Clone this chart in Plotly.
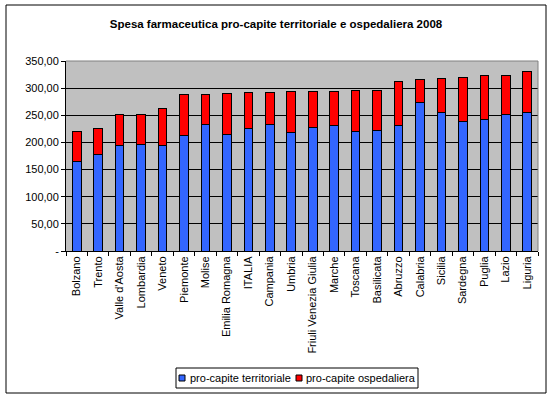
import plotly.graph_objects as go

categories = ["Bolzano", "Trento", "Valle d'Aosta", "Lombardia", "Veneto", "Piemonte", "Molise",
              "Emilia Romagna", "ITALIA", "Campania", "Umbria", "Friuli Venezia Giulia", "Marche",
              "Toscana", "Basilicata", "Abruzzo", "Calabria", "Sicilia", "Sardegna", "Puglia",
              "Lazio", "Liguria"]
territoriale = [164.9, 178.4, 194.3, 196.2, 194.3, 212.7, 233.5, 214.5, 225.6, 233.5, 218.8,
                227.4, 231.1, 220.7, 222.5, 231.1, 274.0, 255.6, 239.1, 242.7, 251.3, 255.6]
totale = [220.7, 226.2, 251.9, 251.9, 263.0, 288.7, 288.7, 290.6, 292.4, 292.4, 294.2,
          294.2, 294.2, 296.1, 296.1, 312.6, 316.3, 318.1, 320.0, 323.7, 323.7, 331.0]
ospedaliera = [round(t - a, 1) for t, a in zip(totale, territoriale)]

series_names = ["pro-capite territoriale", "pro-capite ospedaliera"]
series_colors = ["#3366FF", "#FF0000"]

y_tickvals = [0, 50, 100, 150, 200, 250, 300, 350]
y_ticktext = ["-", "50,00", "100,00", "150,00", "200,00", "250,00", "300,00", "350,00"]

FONT = "Liberation Sans, Arial, sans-serif"

fig = go.Figure()
for name, vals, col in zip(series_names, [territoriale, ospedaliera], series_colors):
    fig.add_trace(go.Bar(name=name, x=categories, y=vals, showlegend=False,
                         marker=dict(color=col, line=dict(color="black", width=1))))

L, R, T, B = 66, 538, 61, 251
W, H = 552, 399
def px(x):
    return (x - L) / (R - L)
def py(y):
    return (B - y) / (B - T)

shapes = [
    dict(type="line", xref="paper", yref="paper", x0=0, x1=1, y0=1, y1=1,
         line=dict(color="#808080", width=1)),
    dict(type="line", xref="paper", yref="paper", x0=1, x1=1, y0=0, y1=1,
         line=dict(color="#808080", width=1)),
    dict(type="rect", xref="paper", yref="paper", x0=px(6), x1=px(546), y0=py(393), y1=py(5),
         line=dict(color="black", width=1), fillcolor="rgba(0,0,0,0)", layer="below"),
    # legend box
    dict(type="rect", xref="paper", yref="paper", x0=px(176), x1=px(418), y0=py(388), y1=py(368),
         line=dict(color="black", width=1), fillcolor="white"),
]
annotations = []
legend_sq_x = [179, 296]
legend_txt_x = [188, 304]
for name, col, sx, tx in zip(series_names, series_colors, legend_sq_x, legend_txt_x):
    shapes.append(dict(type="rect", xref="paper", yref="paper", x0=px(sx), x1=px(sx + 6),
                       y0=py(381), y1=py(375), line=dict(color="black", width=1), fillcolor=col))
    annotations.append(dict(text=name, xref="paper", yref="paper", x=px(tx), y=py(378),
                            xanchor="left", yanchor="middle", showarrow=False,
                            font=dict(family=FONT, size=11, color="black")))

fig.update_layout(
    width=W, height=H,
    barmode="stack", bargap=0.6,
    margin=dict(l=L, r=W - R, t=T, b=H - B, autoexpand=False),
    paper_bgcolor="white", plot_bgcolor="#C0C0C0",
    font=dict(family=FONT, size=11, color="black"),
    title=dict(text="<b>Spesa farmaceutica pro-capite territoriale e ospedaliera 2008</b>",
               x=276 / W, xanchor="center", y=1 - 24 / H, yanchor="middle",
               font=dict(family=FONT, size=11.5, color="black")),
    showlegend=False,
    xaxis=dict(type="category", tickangle=-90, showgrid=False, showline=True,
               linecolor="black", linewidth=1, ticks="outside", tickson="boundaries",
               ticklen=4, tickcolor="black", tickfont=dict(family=FONT, size=11)),
    yaxis=dict(range=[0, 350], tickvals=y_tickvals, ticktext=y_ticktext,
               showgrid=True, gridcolor="black", gridwidth=1, showline=True,
               linecolor="black", linewidth=1, ticks="outside", ticklen=4,
               tickcolor="black", zeroline=False, tickfont=dict(family=FONT, size=11)),
    shapes=shapes,
    annotations=annotations,
)

fig.write_html("out.html", config={"displayModeBar": False},
               post_script="document.body.style.margin='0';document.body.style.overflow='hidden';")
